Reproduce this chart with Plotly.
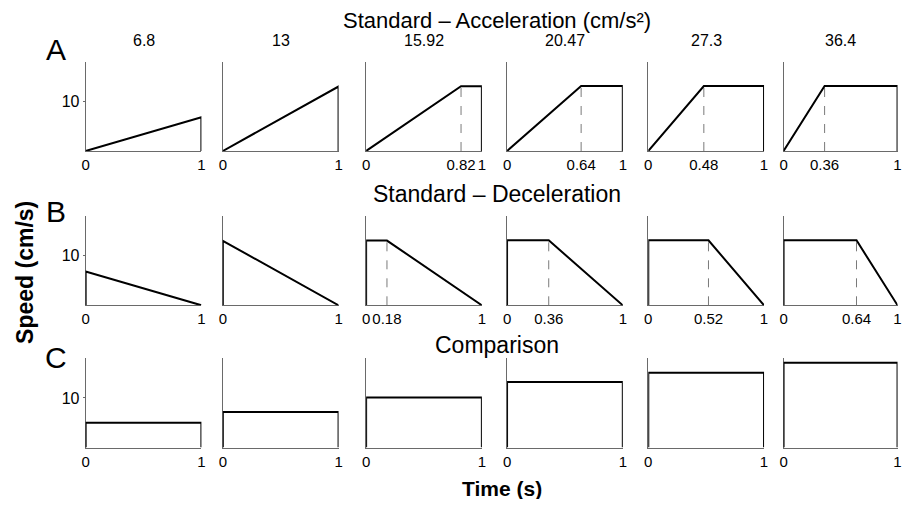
import plotly.graph_objects as go

# ---- data ----
accel_labels = ["6.8", "13", "15.92", "20.47", "27.3", "36.4"]   # acceleration (cm/s²)
peak_speed = [6.8, 13.0, 13.05, 13.1, 13.1, 13.1]                 # cm/s
accel_end = [1.0, 1.0, 0.82, 0.64, 0.48, 0.36]                     # s, end of acceleration
decel_start = [0.0, 0.0, 0.18, 0.36, 0.52, 0.64]                   # s, start of deceleration
comparison_speed = [5.0, 7.2, 10.1, 13.2, 15.1, 17.1]              # cm/s

accel_ticks = [["0", "1"], ["0", "1"], ["0", "0.82", "1"], ["0", "0.64", "1"],
               ["0", "0.48", "1"], ["0", "0.36", "1"]]
decel_ticks = [["0", "1"], ["0", "1"], ["0", "0.18", "1"], ["0", "0.36", "1"],
               ["0", "0.52", "1"], ["0", "0.64", "1"]]
comp_ticks = [["0", "1"]] * 6
y_tick_vals = [10]
y_tick_text = ["10"]
row_titles = ["Standard – Acceleration (cm/s²)", "Standard – Deceleration", "Comparison"]
row_letters = ["A", "B", "C"]

# ---- layout geometry (page pixels; the page body has an 8px margin) ----
OFF = 8
W, H = 914 - 2 * OFF, 507 - 2 * OFF
col_left = [82.3, 220.7, 365.3, 507.5, 650.0, 786.5]
col_w = [116.8, 116.8, 116.8, 116.8, 116.8, 115.0]
row_top = [61.7, 216.0, 358.3]
row_h = 89.3
Y_MAX = 18.0

TICKF = "Liberation Sans, Arial, sans-serif"
SANS = "Liberation Sans, Arial, sans-serif"


def fx(px):
    return min(max((px - OFF) / W, 0.0), 1.0)


def fy(py):
    return min(max(1 - (py - OFF) / H, 0.0), 1.0)


fig = go.Figure()
layout = dict(
    width=W, height=H, margin=dict(l=0, r=0, t=0, b=0),
    paper_bgcolor="white", plot_bgcolor="white", showlegend=False,
)

annotations = []
idx = 0
for r in range(3):
    for c in range(6):
        idx += 1
        xa = "x" if idx == 1 else f"x{idx}"
        ya = "y" if idx == 1 else f"y{idx}"
        xkey = "xaxis" if idx == 1 else f"xaxis{idx}"
        ykey = "yaxis" if idx == 1 else f"yaxis{idx}"

        if r == 0:
            t, p = accel_end[c], peak_speed[c]
            xs, ys = [0, t, 1, 1], [0, p, p, 0]
            dash_t = t if t < 1 else None
            labels = accel_ticks[c]
        elif r == 1:
            s, p = decel_start[c], peak_speed[c]
            xs, ys = [0, 0, s, 1], [0, p, p, 0]
            dash_t = s if s > 0 else None
            labels = decel_ticks[c]
        else:
            p = comparison_speed[c]
            xs, ys = [0, 0, 1, 1], [0, p, p, 0]
            dash_t = None
            labels = comp_ticks[c]

        if dash_t is not None:
            fig.add_trace(go.Scatter(x=[dash_t, dash_t], y=[0, p], mode="lines",
                                     line=dict(color="#7a7a7a", width=1, dash="dash"),
                                     xaxis=xa, yaxis=ya, cliponaxis=False, hoverinfo="skip"))
        fig.add_trace(go.Scatter(x=xs, y=ys, mode="lines",
                                 line=dict(color="black", width=2),
                                 xaxis=xa, yaxis=ya, cliponaxis=False, hoverinfo="skip"))

        tick_vals = [float(v) for v in labels]
        layout[xkey] = dict(
            domain=[fx(col_left[c]), fx(col_left[c] + col_w[c])], anchor=ya,
            range=[0, 1], showgrid=False, zeroline=False, showline=True,
            linecolor="#6a6a6a", linewidth=1, ticks="", tickmode="array",
            tickvals=tick_vals, ticktext=labels, tickangle=0, layer="below traces",
            ticklabeloverflow="allow",
            tickfont=dict(family=TICKF, size=15, color="black"), fixedrange=True,
        )
        first = c == 0
        layout[ykey] = dict(
            domain=[fy(row_top[r] + row_h), fy(row_top[r])], anchor=xa,
            range=[0, Y_MAX], showgrid=False, zeroline=False, showline=True,
            linecolor="#6a6a6a", linewidth=1, layer="below traces",
            ticks="outside" if first else "", ticklen=2, tickcolor="#6a6a6a",
            tickmode="array", tickvals=y_tick_vals if first else [],
            ticktext=y_tick_text if first else [], showticklabels=first,
            tickfont=dict(family=TICKF, size=16, color="black"), fixedrange=True,
        )

# column headers (acceleration values)
for c in range(6):
    annotations.append(dict(text=accel_labels[c], x=fx(col_left[c] + col_w[c] / 2), y=fy(41),
                            xref="paper", yref="paper", showarrow=False,
                            xanchor="center", yanchor="middle",
                            font=dict(family=TICKF, size=16, color="black")))

# row titles
title_y = [21, 194, 345]
for r in range(3):
    annotations.append(dict(text=row_titles[r], x=fx(497), y=fy(title_y[r]),
                            xref="paper", yref="paper", showarrow=False,
                            xanchor="center", yanchor="middle", borderpad=0,
                            font=dict(family=SANS, size=23 if r else 22, color="black")))

# panel letters
letter_y = [49, 212, 357]
for r in range(3):
    annotations.append(dict(text=row_letters[r], x=fx(52), y=fy(letter_y[r]),
                            xref="paper", yref="paper", showarrow=False,
                            xanchor="center", yanchor="middle",
                            font=dict(family=SANS, size=30, color="black")))

# axis titles
annotations.append(dict(text="<b>Speed (cm/s)</b>", x=fx(21), y=fy(272), textangle=-90,
                        xref="paper", yref="paper", showarrow=False,
                        xanchor="center", yanchor="middle",
                        font=dict(family=SANS, size=23, color="black")))
annotations.append(dict(text="<b>Time (s)</b>", x=fx(502), y=fy(488),
                        xref="paper", yref="paper", showarrow=False,
                        xanchor="center", yanchor="middle",
                        font=dict(family=SANS, size=21, color="black")))

layout["annotations"] = annotations
fig.update_layout(**layout)
fig.write_html("out.html")
